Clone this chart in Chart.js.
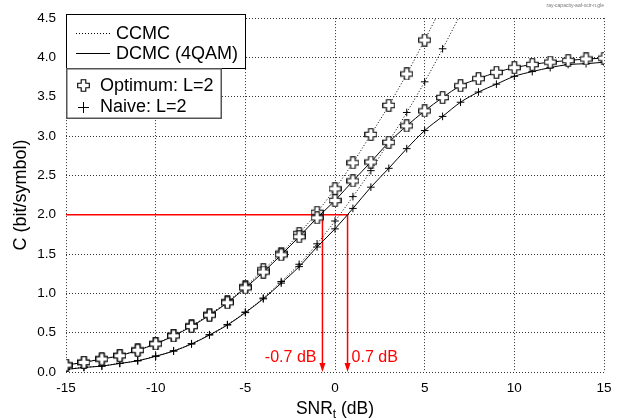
<!DOCTYPE html>
<html>
<head>
<meta charset="utf-8">
<script src="https://cdn.jsdelivr.net/npm/chart.js@4.4.1/dist/chart.umd.min.js"></script>
<style>
  html, body { margin: 0; padding: 0; background: #fff; }
  #wrap { width: 623px; height: 419px; position: relative; }
</style>
</head>
<body>
<div id="wrap"><canvas id="capacityChart"></canvas></div>
<script>
// valores (SNR em dB, capacidade em bit/symbol)
const snrDb = [-15, -14, -13, -12, -11, -10, -9, -8, -7, -6, -5, -4, -3, -2, -1, 0,
               1, 2, 3, 4, 5, 6, 7, 8, 9, 10, 11, 12, 13, 14, 15];
const dcmcOptimum = [0.088, 0.122, 0.165, 0.207, 0.276, 0.357, 0.46, 0.58, 0.722, 0.881, 1.07,
                     1.27, 1.49, 1.72, 1.96, 2.18, 2.43, 2.67, 2.92, 3.13, 3.32, 3.49,
                     3.64, 3.73, 3.81, 3.87, 3.91, 3.94, 3.96, 3.98, 3.99];
const dcmcNaive = [0.032, 0.058, 0.075, 0.109, 0.142, 0.2, 0.266, 0.356, 0.47, 0.597, 0.755,
                   0.93, 1.13, 1.34, 1.59, 1.82, 2.08, 2.35, 2.59, 2.84, 3.07, 3.25,
                   3.43, 3.56, 3.66, 3.76, 3.82, 3.87, 3.91, 3.92, 3.94];
// CCMC: de -15 dB até sair pelo topo do gráfico
const ccmcOptimum = [0.089, 0.124, 0.168, 0.21, 0.28, 0.362, 0.466, 0.588, 0.733, 0.895, 1.085,
                     1.30, 1.51, 1.76, 2.03, 2.33, 2.66, 3.02, 3.39, 3.79, 4.22, 4.67];
const ccmcNaive = [0.033, 0.059, 0.077, 0.111, 0.145, 0.203, 0.27, 0.36, 0.475, 0.603, 0.762,
                   0.94, 1.15, 1.37, 1.63, 1.92, 2.23, 2.56, 2.93, 3.30, 3.69, 4.11, 4.55];
const xTicks = [-15, -10, -5, 0, 5, 10, 15];
const yTicks = [0, 0.5, 1, 1.5, 2, 2.5, 3, 3.5, 4, 4.5];
const targetC = 2.0;
const gapSnr = [-0.7, 0.7];
const gapLabels = ['-0.7 dB', '0.7 dB'];

const FONT = "'Liberation Sans', Arial, sans-serif";
const yMax = 4.5;

function toPoints(values) {
    return values.map((v, i) => ({ x: snrDb[i], y: v }));
}

// marcador "cruz aberta" (Optimum)
function openCross(size, arm) {
    const c = document.createElement('canvas');
    c.width = size; c.height = size;
    const g = c.getContext('2d');
    const m = size / 2, a = arm / 2, e = size / 2 - 0.7;
    g.beginPath();
    g.moveTo(m - a, m - e); g.lineTo(m + a, m - e); g.lineTo(m + a, m - a);
    g.lineTo(m + e, m - a); g.lineTo(m + e, m + a); g.lineTo(m + a, m + a);
    g.lineTo(m + a, m + e); g.lineTo(m - a, m + e); g.lineTo(m - a, m + a);
    g.lineTo(m - e, m + a); g.lineTo(m - e, m - a); g.lineTo(m - a, m - a);
    g.closePath();
    g.fillStyle = '#fff';
    g.fill();
    g.lineWidth = 1.1;
    g.strokeStyle = '#000';
    g.stroke();
    return c;
}
const crossImg = openCross(13, 4.6);

const insideRadius = r => ctx => (ctx.raw && ctx.raw.y > yMax ? 0 : r);

// linhas vermelhas e setas
const gapPlugin = {
    id: 'gapMarks',
    beforeDatasetsDraw(chart) {
        const { ctx, scales: { x, y } } = chart;
        const yT = y.getPixelForValue(targetC);
        const y0 = y.getPixelForValue(0);
        ctx.save();
        ctx.strokeStyle = '#ff0000';
        ctx.fillStyle = '#ff0000';
        ctx.lineWidth = 1.5;
        ctx.beginPath();
        ctx.moveTo(x.getPixelForValue(snrDb[0]), yT);
        ctx.lineTo(x.getPixelForValue(gapSnr[1]), yT);
        ctx.stroke();
        gapSnr.forEach((s, i) => {
            const px = x.getPixelForValue(s);
            ctx.beginPath();
            ctx.moveTo(px, yT);
            ctx.lineTo(px, y0 - 7);
            ctx.stroke();
            ctx.beginPath();
            ctx.moveTo(px - 3, y0 - 9);
            ctx.lineTo(px + 3, y0 - 9);
            ctx.lineTo(px, y0);
            ctx.closePath();
            ctx.fill();
            ctx.font = '16px ' + FONT;
            ctx.textBaseline = 'middle';
            ctx.textAlign = i === 0 ? 'right' : 'left';
            ctx.fillText(gapLabels[i], i === 0 ? px - 6 : px + 4, y0 - 14);
        });
        ctx.restore();
    }
};

// legenda, títulos dos eixos e nota
const decorPlugin = {
    id: 'decor',
    afterDraw(chart) {
        const { ctx, chartArea } = chart;
        ctx.save();
        // título eixo y
        ctx.fillStyle = '#000';
        ctx.font = '18px ' + FONT;
        ctx.textAlign = 'center';
        ctx.textBaseline = 'middle';
        ctx.save();
        ctx.translate(21, (chartArea.top + chartArea.bottom) / 2);
        ctx.rotate(-Math.PI / 2);
        ctx.fillText('C (bit/symbol)', 0, 0);
        ctx.restore();

        // título eixo x com subscrito
        const cx = (chartArea.left + chartArea.right) / 2;
        const parts = [['SNR', '17.5px '], ['t', '12px '], [' (dB)', '17.5px ']];
        let total = 0;
        parts.forEach(p => { ctx.font = p[1] + FONT; total += ctx.measureText(p[0]).width; });
        let px = cx - total / 2;
        ctx.textAlign = 'left';
        ctx.textBaseline = 'alphabetic';
        parts.forEach(p => {
            ctx.font = p[1] + FONT;
            ctx.fillText(p[0], px, p[0] === 't' ? 418 : 414);
            px += ctx.measureText(p[0]).width;
        });

        // nota no canto
        ctx.font = '5px ' + FONT;
        ctx.fillStyle = '#777';
        ctx.textAlign = 'right';
        ctx.fillText('ray-capacity-aaf-xcir-n.gle', 604, 7);

        // caixa 1: CCMC / DCMC
        const L = chartArea.left;
        ctx.fillStyle = '#fff';
        ctx.fillRect(L, 14, 179, 54);
        ctx.strokeStyle = '#000';
        ctx.lineWidth = 1;
        ctx.strokeRect(L + 0.5, 14.5, 179, 54);
        // caixa 2: Optimum / Naive
        ctx.fillRect(L, 69, 155, 49);
        ctx.strokeStyle = '#555';
        ctx.lineWidth = 1.5;
        ctx.strokeRect(L + 0.75, 68.75, 154.5, 49.5);

        ctx.strokeStyle = '#000';
        ctx.lineWidth = 1;
        ctx.setLineDash([1, 2]);
        ctx.beginPath(); ctx.moveTo(L + 10, 33.5); ctx.lineTo(L + 44, 33.5); ctx.stroke();
        ctx.setLineDash([]);
        ctx.beginPath(); ctx.moveTo(L + 10, 53.5); ctx.lineTo(L + 44, 53.5); ctx.stroke();

        ctx.fillStyle = '#000';
        ctx.font = '18px ' + FONT;
        ctx.textBaseline = 'middle';
        ctx.textAlign = 'left';
        ctx.fillText('CCMC', L + 50, 34);
        ctx.fillText('DCMC (4QAM)', L + 50, 54);

        ctx.drawImage(crossImg, L + 11, 79);
        ctx.beginPath();
        ctx.moveTo(L + 12, 107.5); ctx.lineTo(L + 23, 107.5);
        ctx.moveTo(L + 17.5, 102); ctx.lineTo(L + 17.5, 113);
        ctx.stroke();
        ctx.fillText('Optimum: L=2', L + 34, 86);
        ctx.fillText('Naive: L=2', L + 34, 107);
        ctx.restore();
    }
};

const lineBase = {
    borderColor: '#000',
    borderWidth: 1,
    pointBorderColor: '#000',
    pointBackgroundColor: '#000',
    pointBorderWidth: 1,
    cubicInterpolationMode: 'monotone',
    fill: false
};

new Chart(document.getElementById('capacityChart'), {
    type: 'line',
    data: {
        datasets: [
            Object.assign({}, lineBase, {
                label: 'Optimum DCMC', data: toPoints(dcmcOptimum),
                pointStyle: crossImg, pointRadius: 5
            }),
            Object.assign({}, lineBase, {
                label: 'Optimum CCMC', data: toPoints(ccmcOptimum), borderDash: [1, 2],
                pointStyle: crossImg, pointRadius: insideRadius(5)
            }),
            Object.assign({}, lineBase, {
                label: 'Naive DCMC', data: toPoints(dcmcNaive),
                pointStyle: 'cross', pointRadius: 3.8
            }),
            Object.assign({}, lineBase, {
                label: 'Naive CCMC', data: toPoints(ccmcNaive), borderDash: [1, 2],
                pointStyle: 'cross', pointRadius: insideRadius(3.8)
            })
        ]
    },
    options: {
        responsive: true,
        maintainAspectRatio: false,
        devicePixelRatio: 1,
        animation: false,
        layout: { padding: { top: 13, right: 19, left: 0, bottom: 0 } },
        plugins: { legend: { display: false }, tooltip: { enabled: false } },
        scales: {
            x: {
                type: 'linear',
                min: -15, max: 15,
                afterBuildTicks: axis => { axis.ticks = xTicks.map(v => ({ value: v })); },
                afterFit: axis => { axis.height = 47; },
                grid: { color: '#333', lineWidth: 1, drawTicks: false },
                border: { display: false, dash: [1, 2] },
                ticks: { color: '#000', font: { family: FONT, size: 13.5 }, padding: 8, maxRotation: 0 }
            },
            y: {
                min: 0, max: yMax,
                afterBuildTicks: axis => { axis.ticks = yTicks.map(v => ({ value: v })); },
                afterFit: axis => { axis.width = 66; },
                grid: { color: '#333', lineWidth: 1, drawTicks: false },
                border: { display: false, dash: [1, 2] },
                ticks: {
                    color: '#000', font: { family: FONT, size: 13.5 }, padding: 10,
                    callback: v => v.toFixed(1)
                }
            }
        }
    },
    plugins: [gapPlugin, decorPlugin]
});
</script>
</body>
</html>
